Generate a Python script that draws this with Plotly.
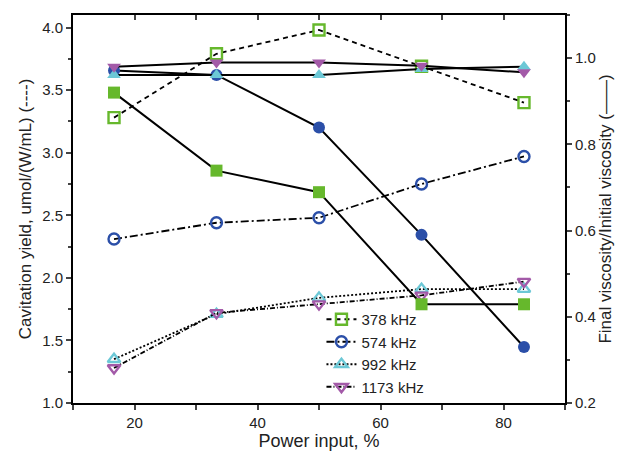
import plotly.graph_objects as go

power = [16.67, 33.33, 50.0, 66.67, 83.33]
freqs = ["378 kHz", "574 kHz", "992 kHz", "1173 kHz"]

# Cavitation yield (left axis, open markers)
yield_378 = [3.28, 3.79, 3.98, 3.69, 3.40]
yield_574 = [2.31, 2.44, 2.48, 2.75, 2.97]
yield_992 = [1.35, 1.71, 1.84, 1.91, 1.91]
yield_1173 = [1.28, 1.72, 1.79, 1.86, 1.97]

# Final/initial viscosity (right axis, filled markers)
visc_378 = [0.920, 0.739, 0.689, 0.429, 0.429]
visc_574 = [0.971, 0.961, 0.839, 0.590, 0.330]
visc_992 = [0.961, 0.961, 0.961, 0.975, 0.980]
visc_1173 = [0.980, 0.990, 0.990, 0.982, 0.967]

colors = ["#66b82c", "#2b4fa8", "#6cc8d6", "#a35aa8"]
open_sym = ["square-open", "circle-open", "triangle-up-open", "triangle-down-open"]
fill_sym = ["square", "circle", "triangle-up", "triangle-down"]
dashes = ["5px,4px", "8px,3px,2px,3px", "2px,2px", "5px,2px,1px,2px"]

yields = [yield_378, yield_574, yield_992, yield_1173]
viscs = [visc_378, visc_574, visc_992, visc_1173]

fig = go.Figure()

for i in range(4):
    fig.add_trace(go.Scatter(
        x=power, y=viscs[i], yaxis="y2", mode="lines+markers",
        line=dict(color="black", width=2),
        marker=dict(symbol=fill_sym[i], size=12, color=colors[i],
                    line=dict(width=0)),
        showlegend=False))

for i in range(4):
    fig.add_trace(go.Scatter(
        x=power, y=yields[i], yaxis="y", mode="lines+markers",
        name=freqs[i],
        line=dict(color="black", width=1.8, dash=dashes[i]),
        marker=dict(symbol=open_sym[i], size=11, color=colors[i],
                    line=dict(width=2.4, color=colors[i])),
        ))

# invisible trace for the top axis
fig.add_trace(go.Scatter(x=[10, 90], y=[1, 1], xaxis="x2", yaxis="y",
                         mode="markers", marker=dict(opacity=0),
                         showlegend=False, hoverinfo="skip"))

font = "Arial, Liberation Sans, sans-serif"
fig.update_layout(
    width=617, height=449,
    margin=dict(l=65, r=60, t=7, b=54, autoexpand=False),
    plot_bgcolor="white", paper_bgcolor="white",
    font=dict(family=font, color="#222", size=15),
    xaxis=dict(range=[10, 90], dtick=20, tick0=0, ticks="outside", ticklen=5,
               tickwidth=1.5, showline=True, linewidth=2, linecolor="black",
               showgrid=False, zeroline=False, automargin=False,
               minor=dict(dtick=10, ticks="outside", ticklen=5, tickwidth=1.5),
               title=dict(text="Power input, %", font=dict(size=18), standoff=2),
               tickfont=dict(size=15)),
    xaxis2=dict(range=[10, 90], overlaying="x", side="top", dtick=10, tick0=0,
                ticks="inside", ticklen=5, tickwidth=1.5, showticklabels=False,
                showline=True, linewidth=2, linecolor="black", showgrid=False,
                zeroline=False, automargin=False),
    yaxis=dict(range=[1.0, 4.1], dtick=0.5, tick0=0, tickformat=".1f",
               ticks="outside", ticklen=5, tickwidth=1.5,
               showline=True, linewidth=2, linecolor="black",
               showgrid=False, zeroline=False, automargin=False,
               minor=dict(dtick=0.25, ticks="outside", ticklen=3, tickwidth=1.5),
               title=dict(text="Cavitation yield, umol/(W/mL) (----)",
                          font=dict(size=17), standoff=6),
               tickfont=dict(size=15)),
    yaxis2=dict(range=[0.2, 1.1], dtick=0.2, tick0=0, tickformat=".1f",
                overlaying="y", side="right",
                ticks="outside", ticklen=5, tickwidth=1.5,
                showline=True, linewidth=2, linecolor="black",
                showgrid=False, zeroline=False, automargin=False,
                minor=dict(dtick=0.1, ticks="outside", ticklen=3, tickwidth=1.5),
                title=dict(text="Final viscosity/Initial viscosity (——)",
                           font=dict(size=17), standoff=4),
                tickfont=dict(size=15)),
    legend=dict(x=0.505, y=0.0, xanchor="left", yanchor="bottom",
                bgcolor="rgba(0,0,0,0)", font=dict(size=15),
                itemwidth=30, tracegroupgap=0),
)

fig.write_html("out.html")
